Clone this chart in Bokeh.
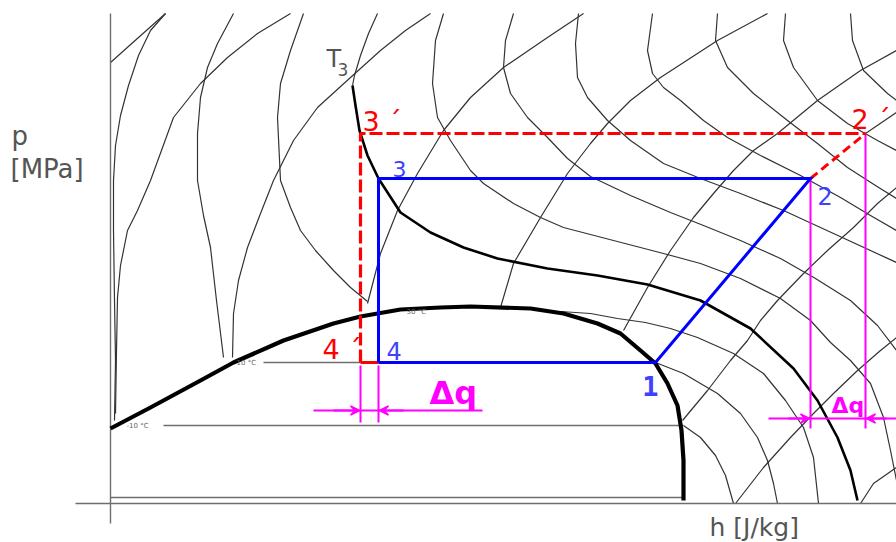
from bokeh.plotting import figure
from bokeh.models import Range1d, Arrow, VeeHead
from bokeh.core.properties import value
from bokeh.embed import file_html
from bokeh.resources import INLINE

# ---------------------------------------------------------------------------
# Diagram data (h to the right, p measured downward from the top of the sheet)
# ---------------------------------------------------------------------------

# Saturation dome: liquid line, critical region, vapour line
dome = [(110, 428), (150, 407), (200, 380), (233, 362), (283, 340), (333, 323),
        (360, 316), (400, 309), (440, 307), (470, 306), (530, 308), (563, 313),
        (597, 323), (620, 333), (640, 350), (655, 363), (667, 383), (677, 405),
        (681, 430), (683, 460), (683, 500)]

# Gas-cooler exit isotherm T3 (thin upper part, thick lower part)
t3_thin = [(377, 13), (368, 33), (360, 55), (354, 75), (352, 85)]
t3_thick = [(352, 85), (355, 105), (359, 130), (367, 155), (378, 178), (400, 212),
            (430, 232), (463, 247), (497, 258), (547, 268), (597, 275), (647, 284),
            (700, 300), (750, 328), (793, 368), (817, 400), (837, 437), (850, 470),
            (857, 500)]

# Isotherms in the liquid / supercritical region
iso_a = [(165, 13), (150, 30), (138, 55), (128, 85), (120, 115), (115, 145),
         (113, 180), (113, 230), (114, 300), (115, 360), (114, 420)]
iso_b = [(233, 13), (217, 43), (207, 67), (200, 97), (197, 133), (197, 180),
         (203, 215), (210, 247), (216, 300), (223, 357)]
iso_c = [(303, 13), (290, 50), (280, 83), (277, 117), (280, 180), (290, 207),
         (300, 230), (315, 250), (333, 270), (350, 287), (367, 301)]

# Isotherms right of T3
iso_p1 = [(443, 13), (435, 40), (432, 83), (437, 117), (450, 140), (470, 170),
          (483, 183), (513, 203), (540, 217), (563, 227), (613, 240), (663, 253),
          (700, 263), (740, 278), (780, 298), (810, 320), (830, 342), (850, 360),
          (870, 383), (883, 417), (890, 450), (896, 480)]
iso_p2 = [(513, 13), (505, 40), (503, 67), (510, 93), (527, 117), (547, 137),
          (567, 158), (590, 176), (630, 195), (670, 212), (703, 225), (740, 240),
          (780, 258), (815, 278), (850, 300), (877, 325), (896, 350)]
iso_p3 = [(578, 13), (575, 43), (577, 77), (587, 97), (607, 120), (630, 140),
          (663, 163), (700, 178), (740, 193), (783, 210), (833, 233), (896, 262)]
iso_p4 = [(652, 13), (647, 50), (652, 73), (663, 87), (680, 100), (703, 120),
          (727, 137), (760, 155), (800, 175), (840, 197), (870, 215), (896, 230)]
iso_p5 = [(717, 13), (715, 40), (727, 67), (753, 93), (787, 120), (817, 143),
          (847, 167), (875, 185), (896, 198)]
iso_p6 = [(785, 13), (783, 40), (793, 67), (817, 100), (847, 123), (877, 140),
          (896, 150)]
iso_p7 = [(850, 13), (852, 40), (863, 70), (887, 93), (896, 100)]

# Superheated continuation of the evaporating isotherms
iso_30 = [(560, 311), (590, 313), (617, 318), (645, 322), (670, 328), (697, 337),
          (733, 353), (763, 373), (785, 400), (803, 427), (813, 457), (818, 503)]
iso_10 = [(655, 362), (683, 373), (717, 393), (740, 413), (757, 437), (767, 460),
          (773, 483), (777, 503)]
iso_m10 = [(683, 425), (700, 437), (715, 455), (725, 475), (733, 503)]

# Isentropes
isen_0 = [(110, 62), (138, 37), (165, 13)]
isen_1 = [(290, 13), (257, 33), (227, 57), (200, 83), (173, 117), (150, 180),
          (137, 210), (127, 230), (120, 265), (117, 297), (116, 350), (115, 413)]
isen_2 = [(430, 13), (405, 30), (380, 50), (350, 77), (317, 107), (293, 140),
          (273, 180), (260, 213), (247, 247), (238, 280), (233, 313), (232, 357)]
isen_3 = [(367, 303), (373, 280), (380, 253), (397, 210), (417, 173), (443, 130),
          (470, 97), (503, 67), (547, 37), (583, 13)]
isen_4 = [(500, 307), (513, 263), (540, 217), (567, 173), (590, 143), (607, 123),
          (630, 100), (660, 77), (717, 40), (767, 13)]
isen_5 = [(623, 330), (647, 287), (670, 250), (693, 217), (713, 193), (733, 170),
          (753, 150), (777, 133), (817, 100), (860, 70), (896, 50)]
isen_6 = [(682, 420), (707, 390), (730, 360), (747, 340), (760, 320), (777, 300),
          (803, 273), (827, 250), (853, 227), (877, 203), (896, 187)]
isen_7 = [(735, 503), (763, 467), (790, 437), (813, 413), (833, 393), (857, 370),
          (880, 350), (896, 337)]
isen_8 = [(860, 503), (873, 483), (896, 467)]
isen_9 = [(865, 133), (896, 112)]

# Constant-pressure lines inside the dome
isobar_10 = [(263, 362), (360, 362)]
isobar_m10 = [(163, 425), (683, 425)]
isobar_low = [(110, 497), (683, 497)]

# Axes of the diagram
axis_h = [(75, 503), (896, 503)]
axis_v = [(110, 13), (110, 523)]

# Cycle state points
h1, h2, h3, h4 = 655, 810, 378, 378
p_evap, p_gc, p_gc_hi = 362, 178, 133
h2_hi, h3_hi = 865, 360

# Heat-difference markers
dq_left_p, dq_left_bottom = 410, 422
dq_left_from, dq_left_to = 313, 482
dq_right_p, dq_right_bottom = 418, 428
dq_right_from, dq_right_to = 768, 896


def xs_of(c):
    return [pt[0] for pt in c]


def ys_of(c):
    return [pt[1] for pt in c]


p = figure(width=896, height=542, x_range=Range1d(0, 896), y_range=Range1d(542, 0),
           output_backend="svg", toolbar_location=None, min_border=0,
           x_axis_type=None, y_axis_type=None)
p.grid.visible = False
p.outline_line_color = None
p.background_fill_color = "white"
p.border_fill_color = "white"

# thin chart lines
thin = [t3_thin, iso_a, iso_b, iso_c, iso_p1, iso_p2, iso_p3, iso_p4, iso_p5,
        iso_p6, iso_p7, iso_30, iso_10, iso_m10, isen_0, isen_1, isen_2, isen_3,
        isen_4, isen_5, isen_6, isen_7, isen_8, isen_9]
p.multi_line(xs=[xs_of(c) for c in thin], ys=[ys_of(c) for c in thin],
             line_color="#333333", line_width=1.2, line_join="round")

grey = [isobar_10, isobar_m10, isobar_low, axis_h, axis_v]
p.multi_line(xs=[xs_of(c) for c in grey], ys=[ys_of(c) for c in grey],
             line_color="#6e6e6e", line_width=1.4)

# thick lines
p.line(xs_of(t3_thick), ys_of(t3_thick), line_color="black", line_width=2.6,
       line_join="round")
p.line(xs_of(dome), ys_of(dome), line_color="black", line_width=4.2,
       line_join="round")

# magenta heat markers
mag = "#ff00ff"
p.multi_line(xs=[[h2, h2], [h2_hi, h2_hi], [h3_hi, h3_hi], [h4, h4],
                 [dq_left_from, dq_left_to], [dq_right_from, dq_right_to]],
             ys=[[p_gc, dq_right_bottom], [p_gc_hi, dq_right_bottom],
                 [p_evap + 3, dq_left_bottom], [p_evap + 3, dq_left_bottom],
                 [dq_left_p, dq_left_p], [dq_right_p, dq_right_p]],
             line_color=mag, line_width=2)
for xs_, xe_, yy in [(dq_left_from + 20, h3_hi - 1, dq_left_p),
                     (h4 + 25, h4 + 1, dq_left_p),
                     (dq_right_from + 20, h2 - 1, dq_right_p),
                     (dq_right_to - 10, h2_hi + 1, dq_right_p)]:
    p.add_layout(Arrow(end=VeeHead(size=9, line_color=mag, fill_color=mag, line_width=1.5),
                       x_start=xs_, y_start=yy, x_end=xe_, y_end=yy,
                       line_color=mag, line_width=2))

# modified cycle (red)
red = "#ff0000"
p.line([h3_hi, h3_hi, h2_hi], [p_evap, p_gc_hi, p_gc_hi], line_color=red,
       line_width=3.2, line_dash="13 4")
p.line([h2, h2_hi], [p_gc, p_gc_hi], line_color=red, line_width=3, line_dash="9 5")
p.line([h3_hi, h4], [p_evap, p_evap], line_color=red, line_width=3)

# basic cycle (blue)
blue = "#0000ff"
p.line([h4, h1, h2, h3, h4], [p_evap, p_evap, p_gc, p_gc, p_evap],
       line_color=blue, line_width=3, line_join="miter")


# texts (anchored at their vertical middle)
def label(x, y, t, size, color, font="DejaVu Sans", align="left", style="normal"):
    p.text(x=[x], y=[y], text=[t], text_font=value(font), text_font_size=size,
           text_color=color, text_align=align, text_baseline="middle",
           text_font_style=style)


label(11, 135, "p", "26px", "#555555")
label(10, 168, "[MPa]", "26px", "#555555")
label(709, 527, "h [J/kg]", "25px", "#555555")
label(326, 58, "T", "24px", "#555555")
label(337, 69, "3", "17px", "#555555")

label(392, 168, "3", "22px", "#4040ff")
label(817, 195, "2", "24px", "#4040ff")
label(386, 350, "4", "24px", "#4040ff")
label(650, 385, "1", "27px", "#4040ff", font="DejaVu Sans Mono", align="center", style="bold")

label(362, 121, "3 \u00b4", "27px", red)
label(851, 119, "2 \u00b4", "27px", red)
label(322, 349, "4 \u00b4", "27px", red)

label(429, 392, "\u0394q", "32px", mag, style="bold")
label(831, 405, "\u0394q", "22px", mag, style="bold")

label(236, 362, "10 \u00b0C", "7px", "#666666")
label(126, 425, "-10 \u00b0C", "7px", "#666666")
label(406, 311, "30 \u00b0C", "7px", "#666666")

open("out.html", "w").write(file_html(p, INLINE))
